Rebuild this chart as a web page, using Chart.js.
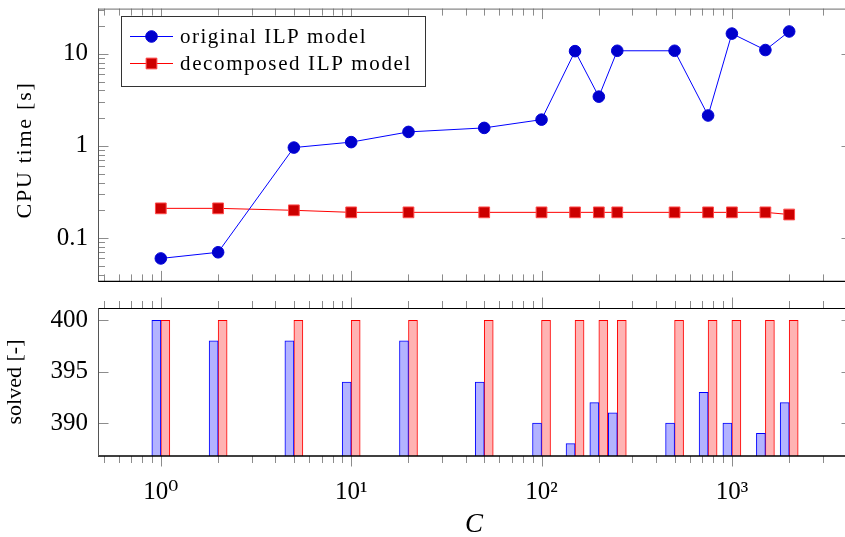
<!DOCTYPE html>
<html>
<head>
<meta charset="utf-8">
<script src="https://cdn.jsdelivr.net/npm/chart.js@4.4.1/dist/chart.umd.min.js"></script>
<style>
  html, body { margin: 0; padding: 0; background: #fff; overflow: hidden; }
  #wrap { position: relative; width: 845px; height: 537px; overflow: hidden; }
  canvas { position: absolute; left: 0; }
</style>
</head>
<body>
<div id="wrap">
  <canvas id="timeChart" width="870" height="290" style="top:0"></canvas>
  <canvas id="solvedChart" width="870" height="247" style="top:290px"></canvas>
</div>
<script>
// data
var cValues = [1, 2, 5, 10, 20, 50, 100, 150, 200, 250, 500, 750, 1000, 1500, 2000];
var origTime = [0.06, 0.07, 0.96, 1.1, 1.42, 1.57, 1.93, 10.7, 3.43, 10.8, 10.8, 2.14, 16.6, 11.0, 17.5];
var decompTime = [0.21, 0.21, 0.2, 0.19, 0.19, 0.19, 0.19, 0.19, 0.19, 0.19, 0.19, 0.19, 0.19, 0.19, 0.18];
var origSolved = [400, 398, 398, 394, 398, 394, 390, 388, 392, 391, 390, 393, 390, 389, 392];
var decompSolved = [400, 400, 400, 400, 400, 400, 400, 400, 400, 400, 400, 400, 400, 400, 400];
var seriesNames = ['original ILP model', 'decomposed ILP model'];
var timeTicks = [0.1, 1, 10];
var solvedTicks = [390, 395, 400];
var cTicks = [1, 10, 100, 1000];

// axis limits (pgfplots enlarged limits)
var cMin = 0.4677, cMax = 4276;
var timeMin = 0.0338, timeMax = 31;
var solvedMin = 386.8, solvedMax = 401.2;

var serif = '"Liberation Serif", "DejaVu Serif", serif';
var sup = ['\u2070', '\u00b9', '\u00b2', '\u00b3'];

function pairs(xs, ys) {
    return xs.map(function (x, i) { return { x: x, y: ys[i] }; });
}

function logMinors(min, max) {
    var out = [];
    for (var e = Math.floor(Math.log10(min)); e <= Math.ceil(Math.log10(max)); e++) {
        for (var k = 2; k <= 9; k++) {
            var v = k * Math.pow(10, e);
            if (v > min && v < max) out.push(v);
        }
    }
    return out;
}

// TeX fonts run wider than Liberation, so stretch a little with letter spacing
function fitText(ctx, text, x, y, width) {
    ctx.letterSpacing = '0px';
    var w = ctx.measureText(text).width;
    var extra = (width - w) / text.length;
    if (extra > 0) ctx.letterSpacing = extra + 'px';
    ctx.fillText(text, x, y);
    ctx.letterSpacing = '0px';
}

// keep the plot area where pgfplots put it, labels may overhang
function noPad(s) {
    s.paddingTop = 0; s.paddingBottom = 0; s.paddingLeft = 0; s.paddingRight = 0;
}

var framePlugin = {
    id: 'frame',
    afterDatasetsDraw: function (chart, args, opts) {
        var a = chart.chartArea, ctx = chart.ctx;
        var xs = chart.scales.x, ys = chart.scales.y;
        ctx.save();
        ctx.strokeStyle = '#8c8c8c';
        ctx.lineWidth = 1;
        function xTick(v, len) {
            var px = Math.round(xs.getPixelForValue(v)) + 0.5;
            var d = opts.xOut ? -1 : 1;
            ctx.beginPath();
            ctx.moveTo(px, a.top); ctx.lineTo(px, a.top + d * len);
            ctx.moveTo(px, a.bottom); ctx.lineTo(px, a.bottom - d * len);
            ctx.stroke();
        }
        function yTick(v, len) {
            var py = Math.round(ys.getPixelForValue(v)) + 0.5;
            ctx.beginPath();
            ctx.moveTo(a.left, py); ctx.lineTo(a.left + len, py);
            ctx.moveTo(a.right, py); ctx.lineTo(a.right - len, py);
            ctx.stroke();
        }
        logMinors(cMin, cMax).forEach(function (v) { xTick(v, 7); });
        cTicks.forEach(function (v) { xTick(v, 10.5); });
        (opts.yMinor || []).forEach(function (v) { yTick(v, 7); });
        opts.yMajor.forEach(function (v) { yTick(v, 10.5); });

        ctx.lineWidth = 1;
        ctx.strokeStyle = opts.topColor;
        ctx.beginPath(); ctx.moveTo(a.left, a.top + 0.5); ctx.lineTo(a.right, a.top + 0.5); ctx.stroke();
        ctx.strokeStyle = '#000';
        ctx.lineWidth = 1.3;
        ctx.beginPath(); ctx.moveTo(a.left, a.bottom); ctx.lineTo(a.right, a.bottom); ctx.stroke();
        ctx.lineWidth = 1;
        ctx.strokeStyle = '#555';
        ctx.beginPath();
        ctx.moveTo(a.left + 0.5, a.top); ctx.lineTo(a.left + 0.5, a.bottom);
        ctx.moveTo(a.right - 0.5, a.top); ctx.lineTo(a.right - 0.5, a.bottom);
        ctx.stroke();
        ctx.restore();
    },
    afterDraw: function (chart, args, opts) {
        var ctx = chart.ctx;
        ctx.save();
        ctx.fillStyle = '#000';
        ctx.textAlign = 'center';
        ctx.textBaseline = 'middle';
        ctx.font = '22px ' + serif;
        ctx.translate(opts.yTitle.x, opts.yTitle.y);
        ctx.rotate(-Math.PI / 2);
        fitText(ctx, opts.yTitle.text, 0, 0, opts.yTitle.width);
        ctx.restore();
        if (opts.xTitle) {
            ctx.save();
            ctx.fillStyle = '#000';
            ctx.textAlign = 'center';
            ctx.textBaseline = 'middle';
            ctx.font = 'italic 27px ' + serif;
            ctx.fillText(opts.xTitle.text, opts.xTitle.x, opts.xTitle.y);
            ctx.restore();
        }
    }
};

var legendPlugin = {
    id: 'ilpLegend',
    afterDraw: function (chart, args, opts) {
        var ctx = chart.ctx;
        ctx.save();
        ctx.fillStyle = '#fff';
        ctx.fillRect(opts.x, opts.y, opts.w, opts.h);
        ctx.strokeStyle = '#333';
        ctx.lineWidth = 1;
        ctx.strokeRect(opts.x + 0.5, opts.y + 0.5, opts.w, opts.h);
        chart.data.datasets.forEach(function (ds, i) {
            var y = opts.rows[i];
            ctx.strokeStyle = ds.borderColor;
            ctx.lineWidth = 1;
            ctx.beginPath();
            ctx.moveTo(opts.lineFrom, y + 0.5);
            ctx.lineTo(opts.lineTo, y + 0.5);
            ctx.stroke();
            ctx.fillStyle = ds.pointBackgroundColor;
            ctx.strokeStyle = ds.pointBorderColor;
            ctx.lineWidth = ds.pointBorderWidth;
            Chart.helpers.drawPoint(ctx, {
                pointStyle: ds.pointStyle, radius: ds.pointRadius,
                borderWidth: ds.pointBorderWidth, rotation: 0
            }, (opts.lineFrom + opts.lineTo) / 2, y + 0.5);
            ctx.fillStyle = '#000';
            ctx.textAlign = 'left';
            ctx.textBaseline = 'middle';
            ctx.font = '21px ' + serif;
            fitText(ctx, ds.label, opts.textX, y + 1, opts.widths[i]);
        });
        ctx.restore();
    }
};

new Chart(document.getElementById('timeChart'), {
    type: 'line',
    data: {
        datasets: [
            {
                label: seriesNames[0], data: pairs(cValues, origTime),
                borderColor: '#0000ff', borderWidth: 1, tension: 0,
                pointStyle: 'circle', pointRadius: 5.8, pointBorderWidth: 1,
                pointBackgroundColor: '#0000cc', pointBorderColor: '#0000d8'
            },
            {
                label: seriesNames[1], data: pairs(cValues, decompTime),
                borderColor: '#ff0000', borderWidth: 1, tension: 0,
                pointStyle: 'rect', pointRadius: 7.6, pointBorderWidth: 1,
                pointBackgroundColor: '#cc0000', pointBorderColor: '#ff4a4a'
            }
        ]
    },
    options: {
        responsive: false,
        animation: false,
        devicePixelRatio: 1,
        layout: { padding: { left: 0, top: 7, right: 18, bottom: 6 } },
        scales: {
            x: { type: 'logarithmic', min: cMin, max: cMax, display: false },
            y: {
                type: 'logarithmic', min: timeMin, max: timeMax,
                afterBuildTicks: function (s) { s.ticks = timeTicks.map(function (v) { return { value: v }; }); },
                afterFit: function (s) { s.width = 98; noPad(s); },
                grid: { display: false, drawTicks: false },
                border: { display: false },
                ticks: {
                    padding: 10, color: '#000', font: { family: serif, size: 25 },
                    callback: function (v) { return String(v); }
                }
            }
        },
        plugins: {
            legend: { display: false },
            tooltip: { enabled: false },
            frame: {
                xOut: false, topColor: '#6a6a6a',
                yMajor: timeTicks, yMinor: logMinors(timeMin, timeMax),
                yTitle: { text: 'CPU time [s]', x: 25, y: 150, width: 137 }
            },
            ilpLegend: {
                x: 121, y: 16, w: 304, h: 70,
                rows: [36, 63], lineFrom: 130, lineTo: 173, textX: 180,
                widths: [187, 232]
            }
        }
    },
    plugins: [framePlugin, legendPlugin]
});

new Chart(document.getElementById('solvedChart'), {
    type: 'bar',
    data: {
        datasets: [
            {
                label: seriesNames[0], data: pairs(cValues, origSolved),
                backgroundColor: '#b3b3ff', borderColor: '#0000ff', borderWidth: 1,
                borderSkipped: 'start', barThickness: 9, base: solvedMin
            },
            {
                label: seriesNames[1], data: pairs(cValues, decompSolved),
                backgroundColor: '#ffb3b3', borderColor: '#ff0000', borderWidth: 1,
                borderSkipped: 'start', barThickness: 9, base: solvedMin
            }
        ]
    },
    options: {
        responsive: false,
        animation: false,
        devicePixelRatio: 1,
        layout: { padding: { left: 0, top: 18, right: 18, bottom: 0 } },
        scales: {
            x: {
                type: 'logarithmic', min: cMin, max: cMax, offset: false,
                afterBuildTicks: function (s) { s.ticks = cTicks.map(function (v) { return { value: v }; }); },
                afterFit: function (s) { s.height = 81; noPad(s); },
                grid: { display: false, drawTicks: false, offset: false },
                border: { display: false },
                ticks: {
                    padding: 21, color: '#000', maxRotation: 0, autoSkip: false,
                    font: { family: serif, size: 25 },
                    callback: function (v) { return '10' + sup[Math.round(Math.log10(v))]; }
                }
            },
            y: {
                min: solvedMin, max: solvedMax,
                afterBuildTicks: function (s) { s.ticks = solvedTicks.map(function (v) { return { value: v }; }); },
                afterFit: function (s) { s.width = 98; noPad(s); },
                grid: { display: false, drawTicks: false },
                border: { display: false },
                ticks: { padding: 10, color: '#000', font: { family: serif, size: 25 } }
            }
        },
        plugins: {
            legend: { display: false },
            tooltip: { enabled: false },
            frame: {
                xOut: true, topColor: '#000',
                yMajor: solvedTicks,
                yTitle: { text: 'solved [-]', x: 15.5, y: 92, width: 85 },
                xTitle: { text: 'C', x: 474, y: 235 }
            }
        }
    },
    plugins: [framePlugin]
});
</script>
</body>
</html>
